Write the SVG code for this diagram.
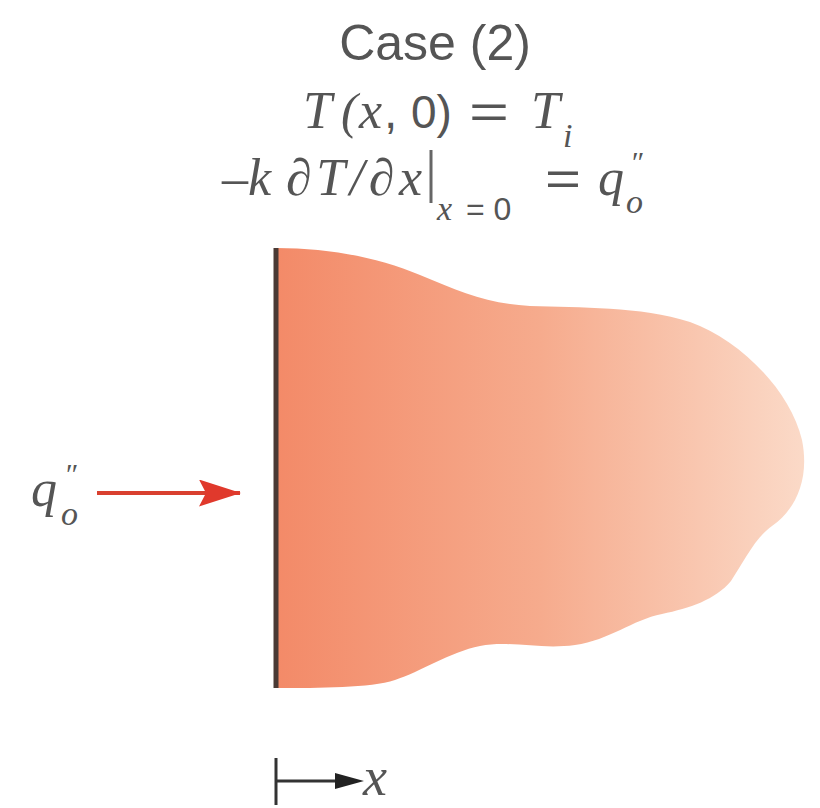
<svg xmlns="http://www.w3.org/2000/svg" width="820" height="808" viewBox="0 0 820 808">
<style>
.t{fill:#555;}
.sans{font-family:"Liberation Sans",Arial,sans-serif;font-style:normal;}
.it{font-family:"Liberation Serif","Times New Roman",serif;font-style:italic;}
</style>
<defs>
<linearGradient id="g" gradientUnits="userSpaceOnUse" x1="276" y1="0" x2="806" y2="0">
<stop offset="0" stop-color="#f38a68"/>
<stop offset="0.5" stop-color="#f6ab8d"/>
<stop offset="1" stop-color="#fbdac8"/>
</linearGradient>
<marker id="ar" viewBox="0 0 42 27" refX="41" refY="13.5" markerWidth="42" markerHeight="27" markerUnits="userSpaceOnUse" orient="auto">
<path d="M0,0 L42,13.5 L0,27 L7,13.5 Z" fill="#e0392c"/>
</marker>
</defs>
<rect width="820" height="808" fill="#fff"/>
<g id="title">
<text class="t sans" x="435" y="60" font-size="50" text-anchor="middle">Case (2)</text>
</g>
<g id="initial-condition">
<text class="t it" y="128" font-size="52"><tspan x="303">T</tspan><tspan x="341" font-size="50">(</tspan><tspan x="359">x</tspan><tspan class="sans" x="384" font-size="48">,</tspan><tspan class="sans" x="411" font-size="46">0)</tspan><tspan class="sans" x="469" font-size="48" textLength="40" lengthAdjust="spacingAndGlyphs">=</tspan><tspan x="531">T</tspan><tspan x="563" y="147" font-size="34">i</tspan></text>
</g>
<g id="boundary-condition">
<text class="t it" y="195" font-size="52"><tspan x="222">–k</tspan><tspan x="286" textLength="136" lengthAdjust="spacing">∂T/∂x</tspan><tspan x="437" y="220" font-size="34">x</tspan><tspan class="sans" x="466" y="220" font-size="32">= 0</tspan><tspan class="sans" x="545" y="195" font-size="48" textLength="36" lengthAdjust="spacingAndGlyphs">=</tspan><tspan x="598" y="195">q</tspan><tspan x="630" y="172" font-size="30">″</tspan><tspan x="626" y="213" font-size="34">o</tspan></text>
<line x1="431" y1="150" x2="431" y2="203" stroke="#666" stroke-width="3"/>
</g>
<g id="body">
<path d="M276,248 C330,248 380,258 420,275 C460,292 490,304 530,306 C580,308 640,306 690,322 C740,340 790,390 802,440 C810,480 795,510 772,526 C755,538 745,560 731,581 C715,600 690,608 662,614 C632,620 610,640 575,645 C540,650 510,640 480,646 C450,652 420,672 395,680 C370,688 320,688 276,688 Z" fill="url(#g)"/>
<line x1="276" y1="248" x2="276" y2="688" stroke="#4a3a35" stroke-width="5"/>
</g>
<g id="flux-label">
<text class="t it" y="506" font-size="52"><tspan x="31">q</tspan><tspan x="64" y="484" font-size="30">″</tspan><tspan x="61" y="525" font-size="34">o</tspan></text>
</g>
<g id="axis">
<line x1="276" y1="758" x2="276" y2="805" stroke="#333" stroke-width="3"/>
<line x1="276" y1="781" x2="340" y2="781" stroke="#333" stroke-width="3"/>
<polygon points="335,773 364,781 335,789" fill="#222"/>
<text class="t it" x="363" y="795" font-size="54">x</text>
</g>
<g id="connectors">
<line x1="97" y1="493" x2="240" y2="493" stroke="#d9402f" stroke-width="4" marker-end="url(#ar)"/>
</g>
</svg>
